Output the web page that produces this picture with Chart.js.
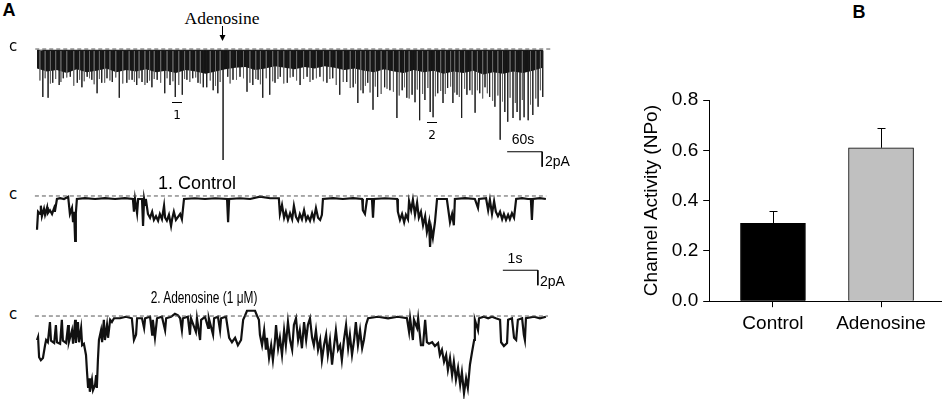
<!DOCTYPE html>
<html>
<head>
<meta charset="utf-8">
<script src="https://cdn.jsdelivr.net/npm/chart.js@4.4.1/dist/chart.umd.min.js"></script>
<style>
  body { margin: 0; background: #fff; }
  #fig { position: relative; width: 948px; height: 399px; overflow: hidden; font-family: "Liberation Sans", Arial, sans-serif; color: #000; }
  #fig canvas { position: absolute; }
  .lbl { position: absolute; white-space: nowrap; line-height: 1; transform: translate(-50%, -50%); }
  .left { transform: translate(0, -50%); }
  .mark { position: absolute; height: 0; border-top: 1px solid #000; }
</style>
</head>
<body>
<div id="fig">
  <canvas id="topTrace" width="525" height="137" style="left:30px;top:38px"></canvas>
  <canvas id="ctrlTrace" width="525" height="106" style="left:30px;top:186px"></canvas>
  <canvas id="adenoTrace" width="525" height="94" style="left:30px;top:305px"></canvas>
  <canvas id="npoChart" width="328" height="262" style="left:620px;top:80px"></canvas>

  <div class="lbl" style="left:9px;top:10px;font-weight:bold;font-size:18px">A</div>
  <div class="lbl" style="left:859px;top:12px;font-weight:bold;font-size:18px">B</div>

  <div class="lbl" style="left:222px;top:19px;font-family:'Liberation Serif',serif;font-size:17.5px">Adenosine</div>
  <svg style="position:absolute;left:218px;top:26px" width="9" height="16">
    <line x1="4.5" y1="0" x2="4.5" y2="12" stroke="#000" stroke-width="1"/>
    <polygon points="1.5,9 7.5,9 4.5,15" fill="#000"/>
  </svg>

  <div class="lbl" style="left:13px;top:46px;font-family:'DejaVu Sans',sans-serif;font-size:15px">c</div>
  <div class="lbl" style="left:13px;top:194px;font-family:'DejaVu Sans',sans-serif;font-size:15px">c</div>
  <div class="lbl" style="left:13px;top:314px;font-family:'DejaVu Sans',sans-serif;font-size:15px">c</div>

  <div class="mark" style="left:172px;top:102px;width:10px"></div>
  <div class="lbl" style="left:177px;top:115px;font-family:'DejaVu Sans',sans-serif;font-size:12px">1</div>
  <div class="mark" style="left:427px;top:122px;width:10px"></div>
  <div class="lbl" style="left:432px;top:135px;font-family:'DejaVu Sans',sans-serif;font-size:12px">2</div>

  <div class="lbl" style="left:523px;top:139px;font-size:14px">60s</div>
  <div class="lbl left" style="left:545px;top:161px;font-size:14px">2pA</div>

  <div class="lbl" style="left:197px;top:183px;font-size:18px">1. Control</div>
  <div class="lbl" style="left:515px;top:258px;font-size:14px">1s</div>
  <div class="lbl left" style="left:540px;top:281px;font-size:14px">2pA</div>

  <div class="lbl" style="left:204px;top:297px;font-size:17px;transform:translate(-50%,-50%) scaleX(0.7)">2. Adenosine (1 &mu;M)</div>
</div>

<script>
// ---- Panel A, long recording (time in s, current in pA, closed level = 0) ----
const bandStep = 17;   // s between readings of the dense-opening band edge
const bandDepths = [2.6, 3.0, 2.8, 3.2, 2.7, 3.1, 2.9, 2.6, 3.1, 2.8, 3.0, 2.7, 3.1, 2.9, 3.2, 2.8, 3.0, 3.3, 3.0, 2.7,
                    2.5, 2.4, 2.8, 2.6, 2.3, 2.5, 2.7, 2.4, 2.6, 2.3, 2.5, 2.8, 2.6, 2.9, 3.1, 2.7, 3.0, 3.2, 2.8, 3.1,
                    2.9, 3.3, 3.0, 3.2, 2.9, 3.4, 3.1, 3.3, 3.0, 3.2, 2.9, 2.5];
// deep events (dark lines)
const spikeTimes = [10, 19, 27, 38, 45, 57, 69, 77, 86, 94, 103, 111, 120, 129, 141, 154, 163, 171, 180, 189,
                    197, 206, 219, 228, 237, 249, 257, 267, 276, 285, 291, 302, 310, 319, 327, 336, 348, 360, 370, 379,
                    387, 399, 408, 417, 429, 439, 451, 463, 473, 485, 497, 507, 519, 531, 542, 550, 559, 567, 576, 584,
                    596, 605, 617, 626, 634, 643, 648, 656, 665, 674, 679, 687, 696, 704, 713, 720, 728, 737, 742, 751,
                    759, 768, 776, 785, 794, 802, 807, 816, 823, 828, 835, 842, 850, 859, 867];
const spikeDepths = [6.4, 6.5, 4.5, 4.8, 3.9, 3.7, 4.5, 5.1, 3.7, 4.1, 5.9, 4.5, 3.9, 4.4, 6.5, 4.5, 4.1, 4.8, 4.4, 4.5,
                     5.1, 4.1, 5.9, 4.8, 6.4, 6.1, 4.1, 3.9, 4.5, 5.1, 5.1, 5.5, 5.9, 14.8, 3.7, 4.1, 3.7, 5.7, 4.8, 4.1,
                     6.5, 6.1, 4.5, 3.7, 4.5, 3.7, 4.8, 3.7, 4.1, 3.7, 4.5, 3.9, 6.1, 4.4, 5.1, 7.2, 5.9, 4.5, 8.1, 6.4,
                     5.1, 5.5, 9.2, 5.5, 6.5, 6.1, 7.1, 9.5, 6.8, 8.4, 9.1, 5.9, 7.2, 5.2, 7.2, 6.1, 9.2, 6.1, 5.5, 8.5,
                     5.9, 5.1, 6.4, 7.7, 12.1, 8.4, 9.7, 9.2, 8.4, 9.5, 9.1, 9.5, 8.8, 7.7, 6.4];
// shallower events (grey lines between the deep ones)
const minorTimes = [5, 14, 23, 32, 41, 51, 63, 73, 81, 90, 98, 107, 116, 125, 135, 147, 158, 167, 175, 185,
                    193, 201, 212, 223, 233, 243, 253, 262, 272, 280, 297, 306, 314, 331, 342, 354, 365, 375, 383, 393,
                    404, 413, 423, 434, 445, 457, 468, 479, 491, 502, 513, 525, 537, 546, 555, 563, 571, 580, 590, 600,
                    611, 621, 630, 638, 652, 661, 670, 683, 692, 700, 709, 716, 724, 733, 746, 755, 764, 772, 781, 790,
                    798, 811, 820, 832, 846, 855, 863];
const minorDepths = [4.2, 3.9, 4.6, 4.0, 4.4, 3.8, 4.9, 4.1, 4.3, 3.9, 4.7, 4.0, 4.5, 4.2, 3.8, 4.6, 4.1, 4.4, 3.9, 4.8,
                     4.2, 4.0, 4.5, 3.9, 4.3, 4.8, 4.0, 4.4, 3.8, 4.6, 4.2, 4.9, 4.4, 4.6, 4.1, 3.9, 4.5, 4.0, 4.7, 3.9,
                     4.3, 4.0, 4.6, 3.8, 4.2, 4.0, 4.4, 3.9, 4.3, 4.0, 4.8, 4.4, 5.2, 4.6, 5.5, 4.9, 5.8, 5.0, 6.0, 5.3,
                     5.7, 6.2, 5.1, 6.6, 5.4, 6.0, 5.2, 6.3, 5.6, 6.0, 5.0, 5.8, 6.4, 5.3, 6.1, 5.5, 6.6, 5.9, 6.9, 6.2,
                     7.0, 6.5, 7.2, 6.8, 7.4, 6.6, 5.5];
const topDashSpan = [-3, 880];
const topScaleBar = [60, 2];          // s, pA
const topScaleBarAt = [806, -13.7];   // corner of the bar

// ---- 1. Control, expanded (s, pA) ----
const ctrlTime = [0, .03, .09, .11, .14, .2, .23, .29, .31, .37, .43, .49, .51, .57, .66, .77, .89, .94, 1.0, 1.03,
  1.06, 1.09, 1.11, 1.14, 1.37, 1.66, 1.94, 2.23, 2.51, 2.74, 2.77, 2.8, 2.86, 2.89, 3.0, 3.03, 3.06, 3.09, 3.11, 3.17,
  3.23, 3.29, 3.34, 3.4, 3.46, 3.51, 3.57, 3.63, 3.66, 3.71, 3.77, 3.83, 3.86, 3.91, 3.97, 4.03, 4.09, 4.14, 4.2, 4.51,
  4.8, 5.09, 5.43, 5.46, 5.49, 5.8, 6.09, 6.37, 6.66, 6.91, 6.94, 7.0, 7.06, 7.11, 7.17, 7.23, 7.29, 7.34, 7.4, 7.46,
  7.51, 7.57, 7.63, 7.69, 7.74, 7.8, 7.86, 7.91, 7.97, 8.03, 8.09, 8.14, 8.17, 8.46, 8.74, 9.03, 9.29, 9.31, 9.37, 9.43,
  9.57, 9.6, 9.63, 9.94, 10.29, 10.31, 10.37, 10.43, 10.49, 10.54, 10.6, 10.63, 10.69, 10.74, 10.8, 10.86, 10.91, 10.97, 11.03, 11.09,
  11.14, 11.2, 11.23, 11.26, 11.31, 11.37, 11.43, 11.71, 11.8, 11.86, 11.91, 11.94, 12.23, 12.51, 12.6, 12.63, 12.83, 12.89, 12.94, 13.0,
  13.06, 13.11, 13.17, 13.23, 13.29, 13.34, 13.4, 13.46, 13.51, 13.57, 13.63, 13.69, 13.86, 14.03, 14.11, 14.14, 14.17, 14.37, 14.54];
const ctrlCurrent = [-4.5, -2.1, -2.4, -1.3, -2.7, -1.7, -2.5, -1.5, -2.3, -1.9, -2.4, -1.6, -2.1, -0.4, -0.3, -0.4, -0.1, -2.4, -1.6, -3.5,
  -2.1, -6.0, -2.3, -0.4, -0.3, -0.4, -0.3, -0.4, -0.3, -0.4, -2.1, -0.4, -2.3, -0.4, -0.4, -4.0, -0.4, -1.2, -0.4, -2.4,
  -2.9, -2.1, -3.2, -2.7, -3.3, -2.4, -3.1, -1.3, -2.9, -3.3, -2.5, -4.0, -3.1, -2.1, -3.2, -2.8, -2.4, -3.1, -0.4, -0.3,
  -0.4, -0.3, -0.4, -3.5, -0.4, -0.3, -0.4, -0.1, -0.3, -0.3, -2.4, -1.2, -2.9, -2.1, -3.2, -2.3, -3.1, -1.3, -2.8, -3.3,
  -2.4, -3.1, -1.9, -3.2, -2.7, -3.3, -2.3, -3.1, -1.6, -2.9, -3.2, -2.5, -0.4, -0.3, -0.4, -0.3, -0.4, -1.9, -2.4, -0.4,
  -0.4, -2.9, -0.4, -0.3, -0.4, -2.1, -3.2, -2.4, -3.5, -2.5, -3.1, -0.7, -1.9, -0.5, -2.5, -0.9, -2.9, -2.1, -3.9, -2.7,
  -4.8, -3.5, -6.8, -4.3, -5.6, -3.5, -0.4, -0.4, -3.5, -2.4, -3.9, -0.4, -0.3, -0.4, -1.6, -0.4, -0.3, -1.9, -0.5, -2.4,
  -0.7, -2.1, -2.7, -2.1, -3.1, -2.4, -3.2, -2.5, -3.1, -2.3, -2.9, -0.4, -0.3, -0.4, -0.4, -3.2, -0.4, -0.3, -0.4];

// ---- 2. Adenosine (1 uM), expanded (s, pA) ----
const adenoTime = [0, .03, .06, .11, .17, .23, .26, .31, .37, .4, .49, .54, .57, .66, .71, .74, .83, .89, .91, 1.0,
  1.03, 1.09, 1.11, 1.17, 1.2, 1.26, 1.29, 1.34, 1.4, 1.43, 1.46, 1.49, 1.51, 1.57, 1.6, 1.66, 1.69, 1.71, 1.74, 1.77,
  1.83, 1.86, 1.91, 1.94, 2.0, 2.03, 2.09, 2.14, 2.2, 2.37, 2.54, 2.71, 2.77, 2.83, 2.86, 3.0, 3.06, 3.09, 3.23, 3.29,
  3.31, 3.37, 3.43, 3.57, 3.66, 3.69, 3.83, 3.94, 4.03, 4.09, 4.14, 4.17, 4.31, 4.37, 4.4, 4.54, 4.57, 4.66, 4.69, 4.8,
  4.89, 4.91, 5.03, 5.06, 5.17, 5.23, 5.26, 5.4, 5.49, 5.57, 5.66, 5.74, 5.83, 5.89, 5.94, 6.0, 6.23, 6.29, 6.34, 6.37,
  6.43, 6.49, 6.54, 6.57, 6.63, 6.69, 6.74, 6.8, 6.83, 6.89, 6.94, 7.0, 7.06, 7.11, 7.17, 7.23, 7.29, 7.34, 7.4, 7.46,
  7.51, 7.57, 7.63, 7.69, 7.74, 7.8, 7.86, 7.91, 7.97, 8.03, 8.09, 8.14, 8.2, 8.26, 8.31, 8.37, 8.43, 8.49, 8.54, 8.6,
  8.66, 8.71, 8.77, 8.83, 8.89, 8.94, 9.0, 9.06, 9.11, 9.17, 9.23, 9.29, 9.34, 9.4, 9.46, 9.74, 10.03, 10.31, 10.57, 10.63,
  10.66, 10.74, 10.77, 10.86, 10.89, 10.97, 11.03, 11.09, 11.14, 11.2, 11.29, 11.37, 11.46, 11.51, 11.57, 11.63, 11.69, 11.74, 11.8, 11.86,
  11.91, 11.97, 12.03, 12.09, 12.14, 12.2, 12.26, 12.31, 12.37, 12.43, 12.49, 12.51, 12.6, 12.63, 12.77, 12.89, 13.0, 13.11, 13.23, 13.26,
  13.34, 13.43, 13.46, 13.57, 13.63, 13.69, 13.74, 13.86, 13.91, 13.94, 13.97, 14.2, 14.37, 14.54];
const adenoCurrent = [-3.2, -2.8, -5.5, -5.9, -5.6, -3.9, -3.2, -3.5, -0.8, -3.3, -3.6, -1.2, -3.5, -3.7, -0.5, -3.3, -3.6, -1.2, -3.5, -1.9,
  -3.7, -0.5, -3.6, -0.8, -3.5, -1.6, -3.9, -3.7, -5.2, -7.5, -9.6, -8.3, -10.1, -8.5, -9.9, -9.2, -7.9, -9.6, -5.9, -3.2,
  -1.9, -3.5, -0.5, -3.2, -1.2, -2.9, -0.5, -0.8, -0.3, -0.3, -0.1, -0.3, -3.2, -2.5, -0.3, -0.3, -1.6, -0.3, -0.1, -2.5,
  -0.5, -2.9, -0.3, -0.1, -1.9, -0.3, -0.1, 0.3, 0.1, -0.3, -1.9, -0.3, -0.1, -2.5, -0.3, -2.1, -0.3, -3.2, -0.5, -0.1,
  -1.6, -0.3, -2.5, -0.3, -0.1, -1.9, -0.3, -0.1, -2.9, -3.5, -2.9, -3.9, -3.2, -0.5, 0, 0.7, 0.7, 0, -0.5, -2.5,
  -3.9, -1.9, -4.5, -2.9, -5.6, -3.9, -5.9, -3.2, -1.2, -4.3, -2.9, -5.2, -1.9, -3.9, -0.8, -3.2, -4.5, -1.2, -0.3, -3.2,
  -1.9, -4.3, -0.8, -3.2, -1.2, -0.3, -2.9, -3.9, -1.9, -4.5, -3.2, -5.9, -3.9, -2.5, -5.2, -3.2, -6.5, -3.9, -1.9, -4.5,
  -3.9, -5.9, -3.2, -1.2, -4.3, -2.5, -5.2, -3.2, -0.8, -3.9, -1.9, -4.3, -3.2, -1.2, -0.3, -0.1, -0.3, -0.1, -0.3, -2.1,
  -0.3, -3.2, -0.5, -1.6, -0.3, -3.9, -3.9, -0.5, -3.5, -3.7, -3.5, -4.0, -3.6, -5.2, -4.5, -6.1, -5.2, -7.2, -5.6, -7.9,
  -6.1, -8.5, -6.9, -9.2, -7.5, -10.3, -8.3, -9.6, -6.5, -4.8, -3.2, -0.5, -1.9, -0.3, -0.1, -0.3, -0.1, -0.3, -0.5, -3.5,
  -4.0, -3.6, -0.5, -0.3, -2.9, -3.2, -0.5, -0.3, -2.5, -3.2, -0.3, -0.1, -0.3, -0.1];
const ctrlDashSpan = [-0.06, 14.55];
const adenoDashSpan = [-0.06, 14.6];
const fastScaleBar = [1, 2];          // s, pA
const fastScaleBarAt = [13.31, -9.9];

// ---- Panel B ----
const groups = ['Control', 'Adenosine'];
const npoMean = [0.31, 0.61];
const npoSem = [0.05, 0.08];
const npoTicks = [0, 0.2, 0.4, 0.6, 0.8];
const barColors = ['#000000', '#c0c0c0'];

Chart.defaults.font.family = "'Liberation Sans', Arial, sans-serif";
Chart.defaults.color = '#000';

function zip(xs, ys) {
    return xs.map((x, i) => ({ x: x, y: ys[i] }));
}

// vertical event lines hanging from the closed level
function eventLines(times, depths) {
    const pts = [];
    times.forEach((t, i) => {
        pts.push({ x: t, y: -0.2 }, { x: t, y: -depths[i] }, { x: t, y: -0.2 });
    });
    return pts;
}

function dashedLine(span) {
    return {
        data: [{ x: span[0], y: 0 }, { x: span[1], y: 0 }],
        borderColor: '#555',
        borderWidth: 1,
        borderDash: [4, 3],
        order: 0
    };
}

function scaleBar(size, at) {
    return {
        data: [{ x: at[0], y: at[1] }, { x: at[0] + size[0], y: at[1] }, { x: at[0] + size[0], y: at[1] - size[1] }],
        borderColor: '#000',
        borderWidth: 1,
        order: 0
    };
}

function traceChart(id, xRange, yRange, datasets) {
    return new Chart(document.getElementById(id), {
        type: 'line',
        data: { datasets: datasets },
        options: {
            animation: false,
            responsive: false,
            events: [],
            layout: { padding: 0 },
            elements: { point: { radius: 0 }, line: { tension: 0 } },
            plugins: { legend: { display: false }, tooltip: { enabled: false } },
            scales: {
                x: { type: 'linear', display: false, min: xRange[0], max: xRange[1] },
                y: { type: 'linear', display: false, min: yRange[0], max: yRange[1] }
            }
        }
    });
}

const bandPoints = bandDepths.map((d, i) => ({ x: i * bandStep, y: -d }));

traceChart('topTrace', [-12, 888], [-16.8, 1.47], [
    dashedLine(topDashSpan),
    scaleBar(topScaleBar, topScaleBarAt),
    { data: eventLines(spikeTimes, spikeDepths), borderColor: '#1a1a1a', borderWidth: 1, order: 1 },
    { data: eventLines(minorTimes, minorDepths), borderColor: '#666', borderWidth: 1, order: 2 },
    { data: bandPoints, borderColor: 'rgba(0,0,0,0)', backgroundColor: '#151515', borderWidth: 0, fill: { value: -0.1 }, order: 3 }
]);

traceChart('ctrlTrace', [-0.2, 14.8], [-12.8, 1.33], [
    dashedLine(ctrlDashSpan),
    scaleBar(fastScaleBar, fastScaleBarAt),
    { data: zip(ctrlTime, ctrlCurrent), borderColor: '#111', borderWidth: 2.2, order: 1 }
]);

traceChart('adenoTrace', [-0.2, 14.8], [-11.07, 1.47], [
    dashedLine(adenoDashSpan),
    { data: zip(adenoTime, adenoCurrent), borderColor: '#111', borderWidth: 2.2, order: 1 }
]);

// error bars (mean + SEM) drawn from the y scale
const errorBars = {
    id: 'errorBars',
    afterDatasetsDraw(chart) {
        const ctx = chart.ctx;
        const y = chart.scales.y;
        const meta = chart.getDatasetMeta(0);
        ctx.save();
        ctx.strokeStyle = '#000';
        ctx.lineWidth = 1;
        meta.data.forEach((bar, i) => {
            const x = Math.round(bar.x) + 0.5;
            const top = y.getPixelForValue(npoMean[i]);
            const end = Math.round(y.getPixelForValue(npoMean[i] + npoSem[i])) + 0.5;
            ctx.beginPath();
            ctx.moveTo(x, top);
            ctx.lineTo(x, end);
            ctx.moveTo(x - 4, end);
            ctx.lineTo(x + 4, end);
            ctx.stroke();
        });
        ctx.restore();
    }
};

new Chart(document.getElementById('npoChart'), {
    type: 'bar',
    data: {
        datasets: [{
            data: groups.map((g, i) => ({ x: i + 1, y: npoMean[i] })),
            backgroundColor: barColors,
            borderColor: '#000',
            borderWidth: 1,
            barThickness: 65
        }]
    },
    options: {
        animation: false,
        responsive: false,
        events: [],
        layout: { padding: { left: 16, right: 7, top: 20, bottom: 2 } },
        plugins: { legend: { display: false }, tooltip: { enabled: false } },
        scales: {
            x: {
                type: 'linear',
                offset: false,
                min: 0.41,
                max: 2.555,
                afterBuildTicks: axis => { axis.ticks = groups.map((g, i) => ({ value: i + 1 })); },
                ticks: { callback: v => groups[v - 1], font: { size: 19 }, color: '#000', padding: 5, maxRotation: 0, autoSkip: false },
                grid: { offset: false, drawOnChartArea: false, tickLength: 6, color: '#000' },
                border: { color: '#000', width: 1 }
            },
            y: {
                min: 0,
                max: 0.8,
                afterBuildTicks: axis => { axis.ticks = npoTicks.map(v => ({ value: v })); },
                ticks: { callback: v => v.toFixed(1), font: { size: 19 }, color: '#000', padding: 5 },
                grid: { drawOnChartArea: false, tickLength: 6, color: '#000' },
                border: { color: '#000', width: 1 },
                title: { display: true, text: 'Channel Activity (NPo)', font: { size: 19 }, color: '#000' }
            }
        }
    },
    plugins: [errorBars]
});
</script>
</body>
</html>
